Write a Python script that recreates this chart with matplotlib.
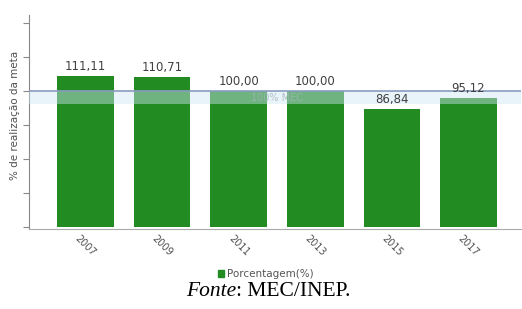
import numpy as np
import matplotlib
matplotlib.use("Agg")
import matplotlib.pyplot as plt
from matplotlib.patches import Patch

# Dados
anos = ["2007", "2009", "2011", "2013", "2015", "2017"]
porcentagem = [111.11, 110.71, 100.00, 100.00, 86.84, 95.12]
rotulos = ["111,11", "110,71", "100,00", "100,00", "86,84", "95,12"]
faixa_meta = (90.4, 100.0)   # faixa "100% MEC"

fig = plt.figure(figsize=(5.22, 3.09), dpi=100)
ax = fig.add_axes([29/522, 1 - 229/309, 492/522, 214/309])

# spines primeiro (set_position reinicia os ticks)
for s in ("top", "right"):
    ax.spines[s].set_visible(False)
ax.spines["left"].set_color("#888888")
ax.spines["bottom"].set_color("#aaaaaa")
ax.spines["bottom"].set_position(("data", -1.5))

x = np.arange(len(anos))
ax.bar(x, porcentagem, width=0.74, color="#228B22", zorder=2)

for xi, v, r in zip(x, porcentagem, rotulos):
    ax.annotate(r, (xi, v), xytext=(0, 2), textcoords="offset points",
                ha="center", va="bottom", fontsize=8.5, color="#404040", zorder=5)

# faixa da meta
ax.axhspan(*faixa_meta, color="#cfe6f5", alpha=0.45, zorder=3, lw=0)
ax.axhline(faixa_meta[1], color="#8a9cc0", lw=1.2, zorder=3)
ax.text(2.5, (faixa_meta[0] + faixa_meta[1]) / 2, "100% MEC", ha="center",
        va="center", fontsize=7, color="#a0b4b8", alpha=0.8, zorder=4)

ax.set_xlim(-0.738, 5.685)
ax.set_ylim(-1.5, 156)
ax.set_yticks([0, 25, 50, 75, 100, 125, 150])
ax.set_yticklabels([])
ax.tick_params(axis="y", length=4, color="#888888", direction="out")
ax.set_xticks(x)
ax.set_xticklabels(anos, rotation=-45, ha="center", va="top",
                   fontsize=7, color="#505050")
ax.tick_params(axis="x", length=0, pad=3)

ax.set_ylabel("% de realização da meta", fontsize=7.5, color="#505050")
ax.yaxis.set_label_coords(-0.018, 0.53)

leg = fig.legend(handles=[Patch(color="#228B22", label="Porcentagem(%)")],
                 loc="center", bbox_to_anchor=(266/522, 1 - 274/309),
                 frameon=False, fontsize=7.5, handlelength=0.6, handleheight=0.6,
                 handletextpad=0.3)
for t in leg.get_texts():
    t.set_color("#555555")

fig.text(236/522, 1 - 291/309, "Fonte", family="Liberation Serif", style="italic",
         fontsize=15.5, ha="right", va="center")
fig.text(236/522, 1 - 291/309, ": MEC/INEP.", family="Liberation Serif",
         fontsize=15.5, ha="left", va="center")

fig.savefig("out.png", dpi=100)
